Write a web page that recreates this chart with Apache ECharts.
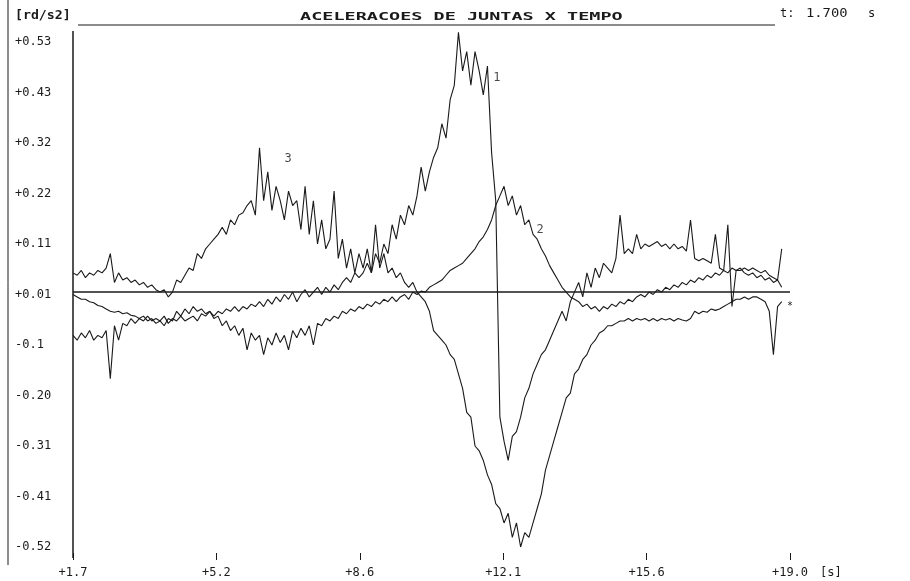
<!DOCTYPE html>
<html>
<head>
<meta charset="utf-8">
<script src="https://cdn.jsdelivr.net/npm/echarts@6/dist/echarts.min.js"></script>
<style>html,body{margin:0;padding:0;background:#fff}#c{width:910px;height:581px}</style>
</head>
<body>
<div id="c"></div>
<script>
// sampling grid: t = T0 + i*DT seconds
const T0 = 1.7, DT = 0.1;
const xTickLabels = ['+1.7','+5.2','+8.6','+12.1','+15.6','+19.0'];
const yTickLabels = ['-0.52','-0.41','-0.31','-0.20','-0.1','+0.01','+0.11','+0.22','+0.32','+0.43','+0.53'];
const curveNames = ['1','2','3'];
const curveLabelPos = [[11.93, 0.455], [12.97, 0.139], [6.89, 0.287]];

const joint1 = [
 -0.08,-0.09,-0.075,-0.085,-0.07,-0.09,-0.08,-0.085,-0.07,-0.17,
 -0.06,-0.09,-0.055,-0.06,-0.045,-0.055,-0.045,-0.05,-0.04,-0.05,
 -0.045,-0.05,-0.04,-0.055,-0.045,-0.05,-0.04,-0.05,-0.045,-0.04,
 -0.05,-0.035,-0.04,-0.03,-0.04,-0.03,-0.035,-0.025,-0.03,-0.02,
 -0.03,-0.02,-0.025,-0.015,-0.02,-0.01,-0.02,-0.005,-0.015,0.0,
 -0.01,0.005,-0.005,0.01,-0.01,0.005,0.015,0.0,0.01,0.02,
 0.005,0.02,0.01,0.025,0.015,0.03,0.04,0.03,0.05,0.04,
 0.05,0.07,0.05,0.09,0.07,0.11,0.09,0.15,0.12,0.17,
 0.15,0.19,0.17,0.21,0.27,0.22,0.26,0.29,0.31,0.36,
 0.33,0.41,0.44,0.55,0.47,0.51,0.44,0.51,0.47,0.42,
 0.48,0.3,0.2,-0.25,-0.3,-0.34,-0.29,-0.28,-0.25,-0.21,
 -0.19,-0.16,-0.14,-0.12,-0.11,-0.09,-0.07,-0.05,-0.03,-0.05,
 -0.01,0.01,0.03,0.0,0.05,0.02,0.06,0.04,0.07,0.06,
 0.05,0.08,0.17,0.09,0.1,0.09,0.13,0.1,0.11,0.105,
 0.11,0.115,0.105,0.11,0.1,0.11,0.1,0.105,0.095,0.16,
 0.08,0.075,0.08,0.075,0.07,0.13,0.06,0.055,0.15,-0.02,
 0.055,0.055,0.06,0.055,0.06,0.055,0.05,0.055,0.045,0.04,
 0.035,0.1
];
const joint2 = [
 0.005,0.0,-0.005,-0.005,-0.01,-0.012,-0.018,-0.02,-0.025,-0.03,
 -0.032,-0.03,-0.035,-0.033,-0.038,-0.04,-0.045,-0.04,-0.05,-0.045,
 -0.055,-0.05,-0.06,-0.045,-0.05,-0.03,-0.04,-0.025,-0.035,-0.02,
 -0.03,-0.025,-0.035,-0.03,-0.045,-0.04,-0.06,-0.05,-0.07,-0.06,
 -0.08,-0.065,-0.11,-0.075,-0.09,-0.08,-0.12,-0.085,-0.1,-0.075,
 -0.095,-0.08,-0.11,-0.07,-0.085,-0.065,-0.08,-0.06,-0.1,-0.055,
 -0.06,-0.045,-0.05,-0.04,-0.045,-0.03,-0.035,-0.025,-0.03,-0.02,
 -0.025,-0.015,-0.02,-0.01,-0.015,-0.005,-0.01,0.0,-0.01,0.0,
 0.005,-0.005,0.01,0.005,0.012,0.01,0.02,0.025,0.03,0.035,
 0.045,0.055,0.06,0.065,0.07,0.08,0.09,0.1,0.115,0.125,
 0.14,0.16,0.19,0.21,0.23,0.19,0.21,0.17,0.19,0.15,
 0.16,0.13,0.12,0.1,0.085,0.065,0.05,0.035,0.02,0.01,
 0.0,-0.005,-0.01,-0.02,-0.015,-0.025,-0.02,-0.03,-0.02,-0.025,
 -0.015,-0.02,-0.01,-0.015,-0.005,-0.01,0.0,0.005,0.0,0.01,
 0.005,0.015,0.01,0.02,0.015,0.025,0.02,0.03,0.025,0.035,
 0.03,0.04,0.035,0.045,0.04,0.05,0.045,0.055,0.05,0.06,
 0.055,0.06,0.05,0.045,0.05,0.04,0.045,0.035,0.04,0.03,
 0.035,0.02
];
const joint3 = [
 0.05,0.045,0.055,0.04,0.05,0.045,0.055,0.05,0.06,0.09,
 0.03,0.05,0.035,0.04,0.03,0.035,0.025,0.03,0.02,0.025,
 0.015,0.01,0.015,0.0,0.01,0.035,0.03,0.045,0.06,0.055,
 0.09,0.08,0.1,0.11,0.12,0.13,0.145,0.13,0.16,0.15,
 0.17,0.175,0.19,0.2,0.17,0.31,0.2,0.26,0.18,0.23,
 0.2,0.16,0.22,0.19,0.2,0.14,0.23,0.13,0.2,0.11,
 0.16,0.1,0.12,0.22,0.08,0.12,0.06,0.1,0.05,0.09,
 0.06,0.1,0.05,0.15,0.06,0.09,0.05,0.06,0.04,0.05,
 0.03,0.02,0.03,0.01,0.0,-0.01,-0.03,-0.07,-0.08,-0.09,
 -0.1,-0.12,-0.13,-0.16,-0.19,-0.24,-0.25,-0.31,-0.32,-0.34,
 -0.37,-0.39,-0.43,-0.44,-0.47,-0.45,-0.5,-0.47,-0.52,-0.49,
 -0.5,-0.47,-0.44,-0.41,-0.36,-0.33,-0.3,-0.27,-0.24,-0.21,
 -0.2,-0.16,-0.15,-0.13,-0.12,-0.1,-0.09,-0.075,-0.07,-0.06,
 -0.06,-0.055,-0.05,-0.05,-0.045,-0.05,-0.045,-0.048,-0.045,-0.05,
 -0.045,-0.05,-0.045,-0.048,-0.045,-0.05,-0.045,-0.048,-0.05,-0.045,
 -0.03,-0.035,-0.03,-0.032,-0.025,-0.028,-0.025,-0.02,-0.015,-0.01,
 -0.005,-0.005,0.0,-0.005,0.0,0.0,-0.005,-0.01,-0.03,-0.12,
 -0.02,-0.01
];

function pairs(arr){ return arr.map((v,i)=>[+(T0+i*DT).toFixed(2), v]); }
const MONO = '"DejaVu Sans Mono", "Liberation Mono", monospace';
const INK = '#1a1a1a';

const lineSeries = (name, arr, extra) => Object.assign({
  name, type:'line', data: pairs(arr), showSymbol:false, symbol:'none',
  clip:false, lineStyle:{color:INK, width:1.1}, silent:true
}, extra||{});

const chart = echarts.init(document.getElementById('c'), null, {renderer:'canvas'});
chart.setOption({
  animation:false,
  backgroundColor:'#fff',
  grid:{left:73, right:120, top:42, bottom:34, containLabel:false},
  xAxis:{
    type:'value', min:1.7, max:19.0, interval:3.46, offset:6,
    axisLine:{show:false, onZero:false},
    axisTick:{show:true, length:7, lineStyle:{color:INK, width:1}},
    splitLine:{show:false},
    axisLabel:{color:INK, fontFamily:MONO, fontSize:12, margin:14,
      formatter:(v)=>{const k=Math.round((v-1.7)/3.46); return xTickLabels[k]||'';}}
  },
  yAxis:{
    type:'value', min:-0.52, max:0.53, interval:0.105,
    axisLine:{show:false}, axisTick:{show:false}, splitLine:{show:false},
    axisLabel:{color:INK, fontFamily:MONO, fontSize:12, align:'left', margin:58,
      formatter:(v)=>{const k=Math.round((v+0.52)/0.105); return yTickLabels[k]||'';}}
  },
  series:[
    lineSeries('1', joint1),
    lineSeries('2', joint2, {markLine:{silent:true, symbol:'none', label:{show:false},
      lineStyle:{color:INK, width:1.5, type:'solid'}, data:[{yAxis:0.005}]}}),
    lineSeries('3', joint3),
    {type:'scatter', symbolSize:0, silent:true,
     data: curveLabelPos.map((p,i)=>({value:p, name:curveNames[i]})),
     label:{show:true, position:'inside', formatter:'{b}', color:INK, fontFamily:MONO, fontSize:12}}
  ],
  graphic:[
    {type:'line', shape:{x1:8, y1:0, x2:8, y2:565}, style:{stroke:INK, lineWidth:1}},
    {type:'line', shape:{x1:73, y1:31, x2:73, y2:558}, style:{stroke:INK, lineWidth:1.5}},
    {type:'line', shape:{x1:78, y1:25, x2:775, y2:25}, style:{stroke:INK, lineWidth:1.2}},
    {type:'text', x:300, y:17, scaleX:1.68, style:{text:'ACELERACOES DE JUNTAS X TEMPO', font:'bold 11px '+MONO, fill:INK, textAlign:'left', textVerticalAlign:'middle', align:'left', verticalAlign:'middle'}},
    {type:'text', x:15, y:16, scaleX:1.1, style:{text:'[rd/s2]', font:'bold 12px '+MONO, fill:INK, textAlign:'left', textVerticalAlign:'middle', align:'left', verticalAlign:'middle'}},
    {type:'text', x:780, y:14, style:{text:'t:', font:'12px '+MONO, fill:INK, textAlign:'left', textVerticalAlign:'middle', align:'left', verticalAlign:'middle'}},
    {type:'text', x:806, y:14, scaleX:1.15, style:{text:'1.700', font:'12px '+MONO, fill:INK, textAlign:'left', textVerticalAlign:'middle', align:'left', verticalAlign:'middle'}},
    {type:'text', x:868, y:14, style:{text:'s', font:'12px '+MONO, fill:INK, textAlign:'left', textVerticalAlign:'middle', align:'left', verticalAlign:'middle'}},
    {type:'text', x:820, y:573, style:{text:'[s]', font:'12px '+MONO, fill:INK, textAlign:'left', textVerticalAlign:'middle', align:'left', verticalAlign:'middle'}},
    {type:'text', x:787, y:306, style:{text:'*', font:'10px '+MONO, fill:INK, textAlign:'left', textVerticalAlign:'middle', align:'left', verticalAlign:'middle'}}
  ]
});
</script>
</body>
</html>
